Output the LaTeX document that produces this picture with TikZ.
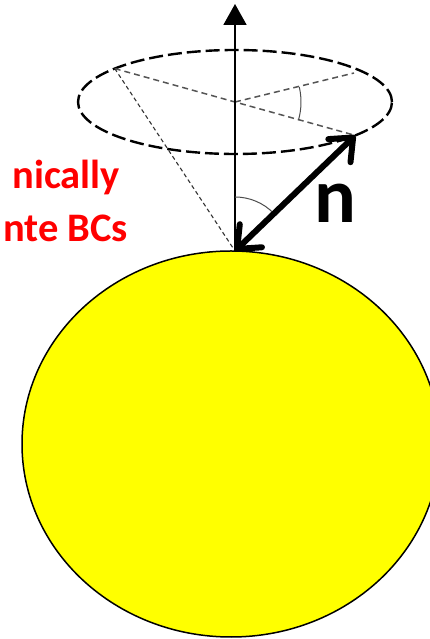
\documentclass[tikz,border=0pt]{standalone}
\usepackage{fontspec}
\setmainfont{Carlito}
\usetikzlibrary{arrows.meta,calc,positioning}
\definecolor{bcRed}{HTML}{FF0000}
\definecolor{bcSun}{HTML}{FFFF00}
\definecolor{bcGuide}{HTML}{555555}
\tikzset{
  bc diagram/.style={x=1pt,y=1pt},
  bc sphere/.style={draw=black,line width=1.5pt,fill=bcSun},
  bc axis/.style={draw=black,line width=1.8pt,-{Triangle[length=21pt,width=23pt]}},
  bc orbit/.style={draw=black,line width=2.4pt,dash pattern=on 14pt off 5pt},
  bc guide/.style={draw=bcGuide,line width=1.5pt,dash pattern=on 6pt off 4pt},
  bc cone/.style={draw=black!80,line width=1.1pt,dash pattern=on 4pt off 3pt},
  bc angle/.style={draw=black!70,line width=1pt},
  bc normal/.style={draw=black,line width=6pt,
    {Straight Barb[length=19pt,width=32pt,round]}-{Straight Barb[length=19pt,width=32pt,round]}},
  bc label/.style={font=\bfseries\fontsize{40.5}{44}\selectfont,text=bcRed,inner sep=0pt},
  bc symbol/.style={font=\bfseries\fontsize{78}{80}\selectfont,inner sep=0pt}
}
\begin{document}
\begin{tikzpicture}[bc diagram]
\useasboundingbox (0,0) rectangle (430,639);
% the sphere
\draw[bc sphere] (231,195) ellipse [x radius=209pt,y radius=193pt];
% axis and precession ring
\coordinate (foot) at (235,388);
\coordinate (top) at (235,635);
\coordinate (ring) at (235,537);
\coordinate (rimLeft) at ($(ring)+(140:157pt and 52pt)$);
\coordinate (rimRight) at (354,566);
\coordinate (rimFront) at ($(ring)+(-40:157pt and 52pt)$);
\draw[bc orbit] (ring) ellipse [x radius=157pt,y radius=52pt];
\draw[bc guide] (rimLeft) -- (rimFront);
\draw[bc guide] (ring) -- (rimRight);
\draw[bc cone] (rimLeft) -- (foot);
\draw[bc axis] (foot) -- (top);
% angles
\draw[bc angle] ([shift={(13:66pt)}]ring) arc [start angle=13,end angle=-16,radius=66pt];
\draw[bc angle] ([shift={(90:54pt)}]foot) arc [start angle=90,end angle=44,radius=54pt];
% the normal
\draw[bc normal] (foot) -- (rimFront);
\node[bc symbol,anchor=base] (nLabel) at (335,416) {n};
\node[bc label,anchor=base east] (bcTop) at (120,450) {nically};
\node[bc label,anchor=base east] (bcBottom) at (128,397) {nte BCs};
\end{tikzpicture}
\end{document}
